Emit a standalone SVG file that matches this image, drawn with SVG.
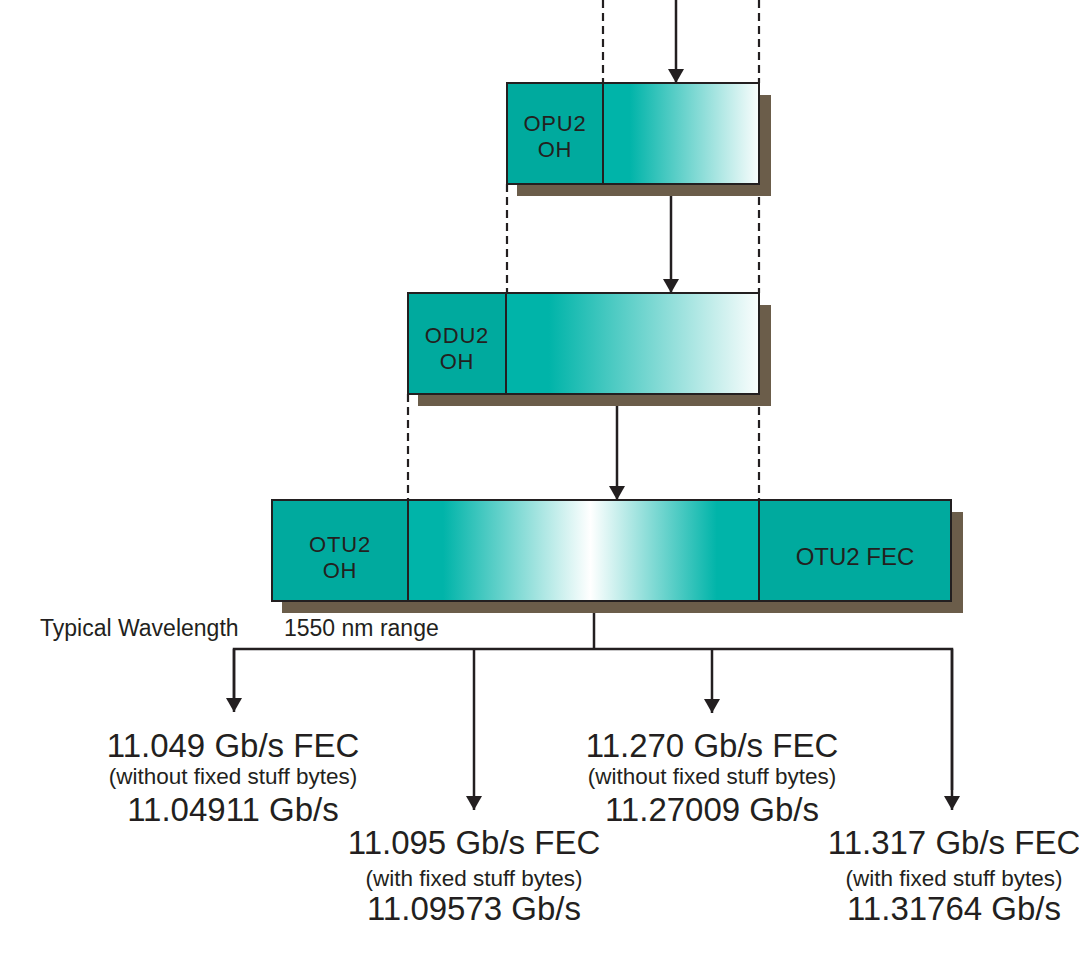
<svg xmlns="http://www.w3.org/2000/svg" width="1079" height="960" viewBox="0 0 1079 960">
<style>
.box{stroke:#231f20;stroke-width:2}
.oh{fill:#00aa9e}
.sh{fill:#6b5d4a}
.dash{stroke:#231f20;stroke-width:2.2;stroke-dasharray:8 5;fill:none}
.ln{stroke:#231f20;stroke-width:2.5;fill:none}
text{font-family:"Liberation Sans",Arial,sans-serif;fill:#231f20}
.bl{font-size:22px;text-anchor:middle;letter-spacing:0.8px}
.fec{font-size:24px;text-anchor:middle}
.big{font-size:33px;text-anchor:middle}
.sm{font-size:22.5px;text-anchor:middle}
.lab{font-size:23px}
</style>
<defs>
<linearGradient id="g1" x1="0" y1="0" x2="1" y2="0">
<stop offset="0" stop-color="#00b4a9"/>
<stop offset="0.17" stop-color="#00b4a9"/>
<stop offset="1" stop-color="#fafdfd"/>
</linearGradient>
<linearGradient id="g2" x1="0" y1="0" x2="1" y2="0">
<stop offset="0" stop-color="#00b4a9"/>
<stop offset="0.1" stop-color="#00b4a9"/>
<stop offset="0.52" stop-color="#ffffff"/>
<stop offset="0.88" stop-color="#00b4a9"/>
<stop offset="1" stop-color="#00b4a9"/>
</linearGradient>
<marker id="ah" viewBox="0 0 14 16" refX="14" refY="8" markerWidth="14" markerHeight="16" markerUnits="userSpaceOnUse" orient="auto">
<path d="M0,0 L14,8 L0,16 Z" fill="#231f20"/>
</marker>
</defs>

<g id="connectors">
<line class="dash" x1="603" y1="0" x2="603" y2="83"/>
<line class="dash" x1="759" y1="0" x2="759" y2="83"/>
<line class="ln" x1="676" y1="0" x2="676" y2="83" marker-end="url(#ah)"/>
<line class="dash" x1="507" y1="184" x2="507" y2="293"/>
<line class="dash" x1="759" y1="184" x2="759" y2="293"/>
<line class="ln" x1="671" y1="184" x2="671" y2="293" marker-end="url(#ah)"/>
<line class="dash" x1="408" y1="394" x2="408" y2="500"/>
<line class="dash" x1="759" y1="394" x2="759" y2="500"/>
<line class="ln" x1="617" y1="394" x2="617" y2="500" marker-end="url(#ah)"/>
<line class="ln" x1="594" y1="601" x2="594" y2="649"/>
<polyline class="ln" points="234,700 234,649 952,649 952,790"/>
<line class="ln" x1="234" y1="649" x2="234" y2="712" marker-end="url(#ah)"/>
<line class="ln" x1="474" y1="649" x2="474" y2="810" marker-end="url(#ah)"/>
<line class="ln" x1="712" y1="649" x2="712" y2="713" marker-end="url(#ah)"/>
<line class="ln" x1="952" y1="649" x2="952" y2="810" marker-end="url(#ah)"/>
</g>

<g id="opu2">
<rect class="sh" x="517" y="95" width="254" height="101"/>
<rect class="box oh" x="507" y="83" width="96" height="101"/>
<rect class="box" x="603" y="83" width="156" height="101" fill="url(#g1)"/>
<text class="bl" x="555" y="131">OPU2</text>
<text class="bl" x="555" y="157">OH</text>
</g>

<g id="odu2">
<rect class="sh" x="418" y="305" width="353" height="101"/>
<rect class="box oh" x="408" y="293" width="98" height="101"/>
<rect class="box" x="506" y="293" width="253" height="101" fill="url(#g1)"/>
<text class="bl" x="457" y="343">ODU2</text>
<text class="bl" x="457" y="369">OH</text>
</g>

<g id="otu2">
<rect class="sh" x="282" y="512" width="681" height="101"/>
<rect class="box oh" x="272" y="500" width="136" height="101"/>
<rect class="box" x="408" y="500" width="351" height="101" fill="url(#g2)"/>
<rect class="box oh" x="759" y="500" width="192" height="101"/>
<text class="bl" x="340" y="552">OTU2</text>
<text class="bl" x="340" y="578">OH</text>
<text class="fec" x="855" y="565">OTU2 FEC</text>
</g>

<g id="wavelength">
<text class="lab" x="40" y="636">Typical Wavelength</text>
<text class="lab" x="284" y="636">1550 nm range</text>
</g>

<g id="rate1">
<text class="big" x="233" y="757">11.049 Gb/s FEC</text>
<text class="sm" x="233" y="784">(without fixed stuff bytes)</text>
<text class="big" x="233" y="821">11.04911 Gb/s</text>
</g>
<g id="rate2">
<text class="big" x="474" y="854">11.095 Gb/s FEC</text>
<text class="sm" x="474" y="886">(with fixed stuff bytes)</text>
<text class="big" x="474" y="920">11.09573 Gb/s</text>
</g>
<g id="rate3">
<text class="big" x="712" y="757">11.270 Gb/s FEC</text>
<text class="sm" x="712" y="784">(without fixed stuff bytes)</text>
<text class="big" x="712" y="821">11.27009 Gb/s</text>
</g>
<g id="rate4">
<text class="big" x="954" y="854">11.317 Gb/s FEC</text>
<text class="sm" x="954" y="886">(with fixed stuff bytes)</text>
<text class="big" x="954" y="920">11.31764 Gb/s</text>
</g>
</svg>
